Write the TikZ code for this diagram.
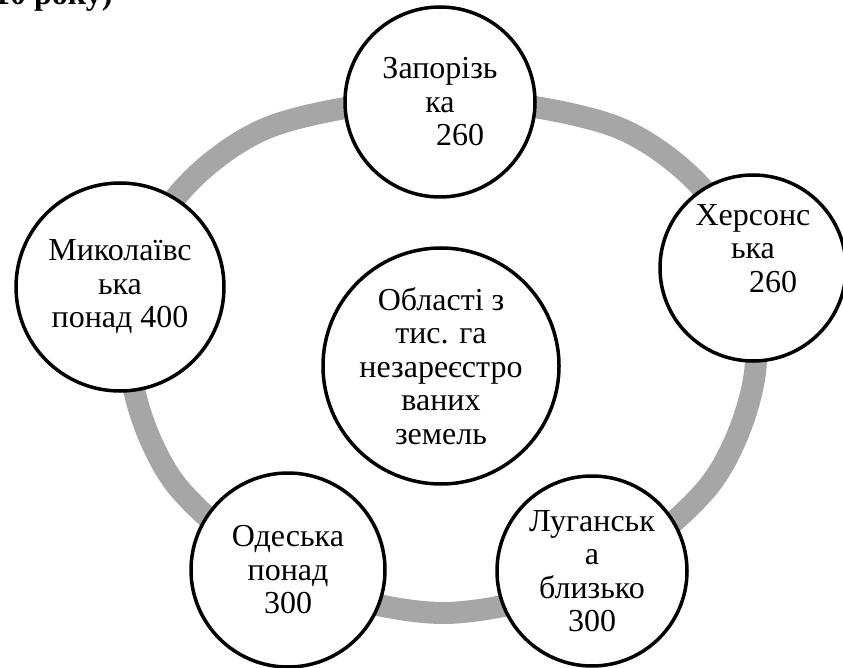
\documentclass[tikz,border=0pt]{standalone}
\usepackage{fontspec}
\setmainfont{Liberation Serif}
\definecolor{ringgray}{RGB}{166,166,166}

\begin{document}
\begin{tikzpicture}[x=1pt,y=-1pt,
  region/.style={circle,draw=black,line width=3.5pt,fill=white,inner sep=0pt,
    align=center,font=\fontsize{32}{33.5}\selectfont},
  ringline/.style={draw=ringgray,line width=22pt}]
\useasboundingbox (0,0) rectangle (843,668);
% Drawing the heading (cut at the page top)
\node[anchor=base west,inner sep=0pt,font=\bfseries\fontsize{32}{34}\selectfont] (heading) at (-6,5) {10 року)};
% Drawing the ring
\draw[ringline] plot[smooth cycle] coordinates {(443,98) (619,128) (721,213) (756,360) (712,482) (594,578) (443,613) (292,578) (174,482) (130,360) (165,213) (267,128)};
% Drawing the regions
\node[region,minimum size=236pt] (centre) at (441,366) {Області з\\тис. га\\незареєстро\\ваних\\земель};
\node[region,minimum size=190pt] (zap) at (440,102) {Запорізь\\ка\\\hspace*{40pt}260};
\node[region,minimum size=186pt] (kher) at (753,268) {Херсонс\\ька\\\hspace*{40pt}260\\[6pt]};
\node[region,minimum size=190pt] (luh) at (592,571) {Луганськ\\а\\близько\\300};
\node[region,minimum size=194pt] (od) at (288,570) {Одеська\\понад\\300};
\node[region,minimum size=208pt] (myk) at (120,287) {Миколаївс\\ька\\понад 400};
% Done with regions
\end{tikzpicture}
\end{document}
